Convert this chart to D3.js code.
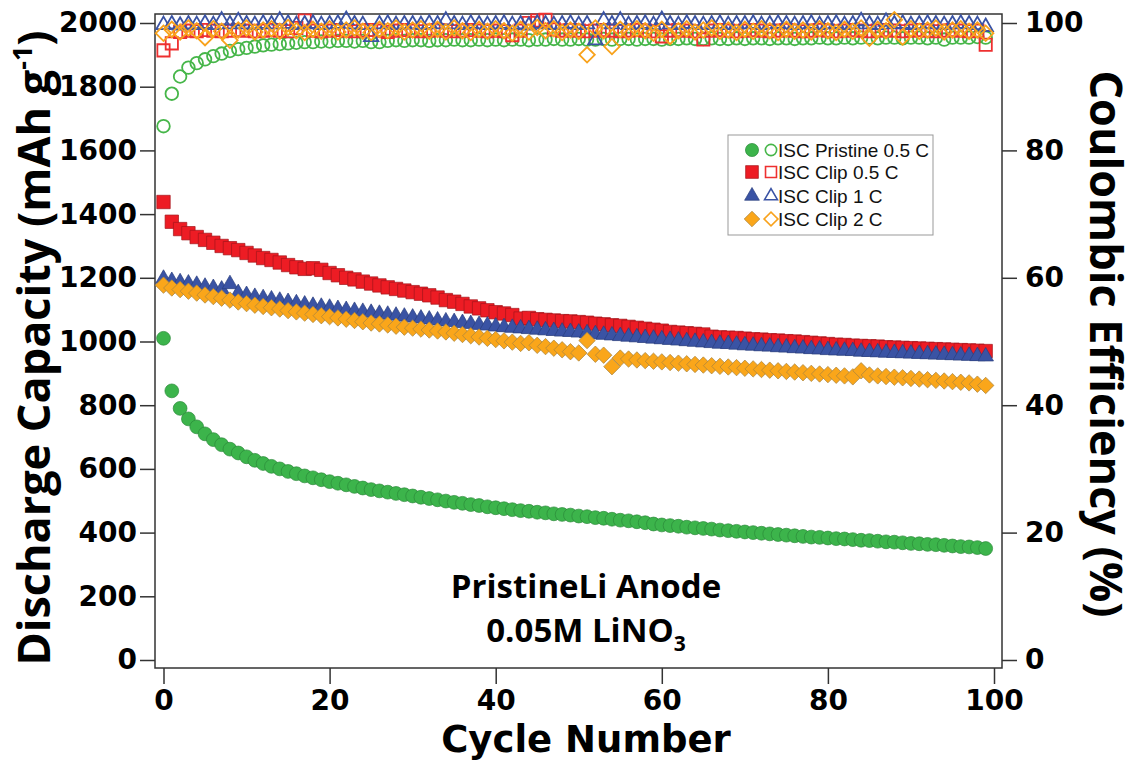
<!DOCTYPE html>
<html>
<head>
<meta charset="utf-8">
<script src="https://cdn.jsdelivr.net/npm/d3@7"></script>
<style>
  html, body { margin: 0; padding: 0; background: #fff; }
  svg { display: block; }
</style>
</head>
<body>
<svg id="chart" width="1137" height="766"></svg>
<script>
// ---- data ----------------------------------------------------------------
const cycleTicks = [0, 20, 40, 60, 80, 100];
const capacityTicks = [0, 200, 400, 600, 800, 1000, 1200, 1400, 1600, 1800, 2000];
const efficiencyTicks = [0, 20, 40, 60, 80, 100];

const seriesNames = ["ISC Pristine 0.5 C", "ISC Clip 0.5 C", "ISC Clip 1 C", "ISC Clip 2 C"];

// discharge capacity, mAh g-1, cycles 0..99
const pristineCap = [
  1010, 845, 790, 757, 732, 710, 692, 676, 662, 650,
  638, 627, 617, 608, 600, 592, 585, 578, 572, 566,
  560, 555, 550, 545, 540, 535, 531, 527, 523, 519,
  515, 511, 507, 503, 499, 495, 492, 488, 485, 481,
  478, 475, 472, 469, 467, 464, 462, 459, 457, 455,
  452, 450, 447, 445, 442, 439, 437, 434, 431, 427,
  424, 422, 420, 417, 415, 413, 411, 408, 406, 404,
  402, 400, 398, 396, 394, 392, 390, 388, 386, 385,
  383, 381, 380, 378, 376, 375, 373, 371, 370, 368,
  366, 365, 363, 362, 360, 358, 356, 355, 353, 350
];
const clip05Cap = [
  1438, 1376, 1353, 1340, 1328, 1319, 1310, 1300, 1293, 1287,
  1278, 1270, 1262, 1256, 1248, 1240, 1233, 1228, 1230, 1225,
  1215, 1208, 1200, 1195, 1188, 1182, 1176, 1170, 1165, 1160,
  1155, 1150, 1145, 1138, 1130, 1125, 1118, 1110, 1104, 1098,
  1092, 1088, 1083, 1072, 1074, 1070, 1068, 1066, 1064, 1063,
  1061, 1059, 1056, 1054, 1051, 1049, 1046, 1043, 1040, 1037,
  1034, 1030, 1028, 1026, 1024, 1022, 1015, 1013, 1012, 1011,
  1009, 1007, 1006, 1004, 1003, 1001, 1000, 998, 996, 994,
  992, 990, 989, 987, 986, 985, 984, 982, 981, 980,
  979, 978, 977, 976, 975, 974, 973, 972, 971, 970
];
const clip1Cap = [
  1197, 1190, 1186, 1182, 1178, 1172, 1168, 1163, 1180, 1152,
  1146, 1140, 1136, 1132, 1128, 1124, 1120, 1116, 1112, 1109,
  1106, 1102, 1099, 1096, 1093, 1090, 1087, 1084, 1081, 1078,
  1075, 1072, 1069, 1066, 1063, 1061, 1058, 1055, 1052, 1050,
  1047, 1045, 1043, 1041, 1039, 1037, 1035, 1033, 1031, 1030,
  1028, 1026, 1023, 1021, 1019, 1017, 1015, 1013, 1011, 1009,
  1007, 1005, 1003, 1001, 999, 997, 995, 993, 992, 990,
  988, 987, 985, 984, 982, 981, 979, 978, 976, 975,
  973, 972, 971, 970, 968, 967, 966, 965, 964, 963,
  962, 961, 960, 959, 958, 957, 956, 955, 954, 953
];
const clip2Cap = [
  1177, 1168, 1163, 1158, 1152, 1146, 1141, 1136, 1130, 1124,
  1119, 1114, 1110, 1106, 1102, 1097, 1093, 1089, 1085, 1081,
  1078, 1074, 1070, 1066, 1062, 1058, 1055, 1052, 1048, 1045,
  1042, 1039, 1036, 1033, 1030, 1026, 1022, 1018, 1014, 1010,
  1006, 1002, 998, 994, 996, 988, 984, 979, 974, 968,
  964, 1003, 960, 957, 921, 948, 945, 942, 940, 938,
  936, 934, 932, 930, 928, 926, 924, 922, 920, 918,
  916, 914, 912, 910, 908, 906, 904, 902, 900, 898,
  896, 894, 892, 889, 908, 895, 892, 890, 888, 886,
  884, 882, 880, 878, 876, 874, 872, 870, 866, 862
];

// coulombic efficiency, %, cycles 0..99
const pristineCE = [
  83.8, 88.9, 91.6, 93.0, 93.7, 94.3, 94.8, 95.2, 95.6, 95.9,
  96.1, 96.3, 96.5, 96.6, 96.7, 96.8, 96.9, 97.0, 97.0, 97.1,
  97.1, 97.2, 97.2, 97.1, 97.2, 97.0, 97.0, 97.2, 97.3, 97.2,
  97.3, 97.3, 97.2, 97.3, 97.3, 97.4, 97.3, 97.3, 97.4, 97.3,
  97.4, 97.3, 97.4, 97.4, 97.3, 97.4, 97.4, 97.5, 97.4, 97.4,
  97.5, 97.4, 97.4, 97.5, 97.4, 97.5, 97.5, 97.4, 97.5, 97.5,
  97.4, 97.5, 97.5, 97.6, 97.5, 97.5, 97.6, 97.5, 97.5, 97.6,
  97.5, 97.6, 97.6, 97.5, 97.6, 97.6, 97.5, 97.6, 97.6, 97.7,
  97.6, 97.6, 97.7, 97.6, 97.7, 97.7, 97.6, 97.7, 97.7, 97.6,
  97.7, 97.7, 97.6, 97.7, 97.4, 97.7, 97.7, 97.7, 97.8, 97.7
];
const clip05CE = [
  95.7, 96.8, 98.6, 98.8, 98.7, 98.9, 98.8, 98.7, 98.8, 98.9,
  98.8, 98.7, 98.8, 98.9, 98.8, 98.7, 99.2, 100.4, 98.8, 98.7,
  98.8, 98.9, 98.8, 98.7, 98.8, 98.9, 98.8, 98.6, 98.8, 98.9,
  98.8, 98.7, 98.8, 98.9, 98.8, 98.7, 98.8, 98.9, 98.8, 98.7,
  98.8, 98.7, 98.1, 98.8, 100.0, 100.4, 100.5, 99.0, 98.8, 98.9,
  98.8, 98.7, 98.8, 98.9, 98.8, 98.7, 98.8, 98.9, 98.8, 98.7,
  97.9, 98.8, 98.9, 98.8, 98.7, 97.4, 98.8, 98.9, 98.8, 98.7,
  98.8, 98.9, 98.8, 98.7, 98.8, 98.9, 98.8, 98.7, 98.8, 98.9,
  98.8, 98.7, 98.8, 98.9, 98.8, 98.7, 98.8, 98.9, 98.8, 98.7,
  98.8, 98.9, 98.8, 98.7, 98.8, 98.9, 98.8, 98.7, 98.8, 96.6
];
const clip1CE = [
  99.7, 99.8, 99.6, 99.8, 99.7, 99.9, 99.7, 100.4, 99.8, 100.3,
  99.8, 99.7, 99.9, 99.8, 100.4, 99.9, 99.7, 99.8, 99.9, 99.7,
  99.8, 99.9, 100.5, 99.8, 99.7, 97.8, 99.8, 99.9, 99.7, 99.8,
  99.8, 99.7, 99.9, 99.8, 100.4, 99.8, 99.7, 99.9, 99.8, 99.7,
  99.8, 99.9, 99.7, 99.8, 99.6, 99.9, 99.8, 99.7, 99.8, 99.9,
  99.7, 99.8, 97.3, 100.4, 99.8, 100.4, 99.7, 99.8, 99.9, 99.7,
  100.5, 99.8, 99.7, 99.9, 99.8, 99.7, 99.8, 99.9, 99.7, 99.8,
  99.8, 99.9, 99.7, 99.8, 99.9, 99.8, 99.7, 99.8, 99.9, 99.7,
  99.8, 99.9, 99.7, 99.8, 100.3, 99.8, 99.7, 100.2, 99.8, 99.9,
  99.7, 99.8, 99.9, 99.8, 99.7, 99.8, 99.9, 99.8, 99.7, 99.4
];
const clip2CE = [
  98.4, 99.0, 98.6, 99.2, 98.8, 97.7, 99.1, 98.7, 97.3, 98.9,
  99.2, 98.6, 98.9, 99.1, 98.7, 99.3, 98.8, 98.5, 99.0, 98.7,
  99.1, 98.6, 98.9, 99.2, 98.7, 98.5, 99.0, 98.8, 99.2, 98.6,
  98.9, 99.1, 98.7, 99.0, 98.6, 99.2, 98.8, 98.5, 99.0, 98.7,
  99.1, 98.8, 98.4, 99.0, 98.6, 99.3, 98.8, 99.1, 98.5, 98.9,
  98.7, 95.0, 99.2, 98.8, 96.3, 99.0, 98.6, 99.1, 98.8, 98.4,
  99.0, 97.9, 98.8, 99.1, 98.6, 98.9, 99.2, 98.7, 98.9, 98.5,
  99.0, 98.7, 99.1, 98.8, 98.5, 99.0, 98.7, 98.9, 98.6, 99.1,
  98.8, 98.5, 99.0, 98.7, 99.2, 97.6, 99.0, 98.8, 100.5, 97.8,
  99.1, 98.7, 98.9, 99.2, 98.6, 98.9, 99.1, 98.7, 98.9, 98.4
];

// ---- layout & scales -------------------------------------------------------
const frame = { left: 155, right: 1002, top: 14, bottom: 668 };
const x = d3.scaleLinear().domain([0, 100]).range([163.5, 994]);
const yCap = d3.scaleLinear().domain([0, 2000]).range([660, 23]);
const yCE = d3.scaleLinear().domain([0, 100]).range([660, 23]);

const svg = d3.select("#chart");
const tickFont = "'DejaVu Sans', sans-serif";
const titleFont = "'Open Sans', 'DejaVu Sans', sans-serif";
const axisColor = "#333";

// marker styles per series: filled fill / edge, open stroke, symbol sizes
const styles = [
  { sym: d3.symbolCircle,   fill: "#3cb44b", edge: "#2b8a3a", open: "#46b649", capSize: 150, ceSize: 125, rot: 0 },
  { sym: d3.symbolSquare,   fill: "#ed1c24", edge: "#a3161b", open: "#ee3030", capSize: 180, ceSize: 150, rot: 0 },
  { sym: d3.symbolTriangle, fill: "#3a53a4", edge: "#2a3d7c", open: "#3a53a4", capSize: 105, ceSize: 90,  rot: 0 },
  { sym: d3.symbolSquare,   fill: "#faa61a", edge: "#a9843f", open: "#f8a21c", capSize: 135, ceSize: 120, rot: 45 }
];
const capSeries = [pristineCap, clip05Cap, clip1Cap, clip2Cap];
const ceSeries = [pristineCE, clip05CE, clip1CE, clip2CE];

// ---- frame -----------------------------------------------------------------
svg.append("rect")
  .attr("x", frame.left).attr("y", frame.top)
  .attr("width", frame.right - frame.left)
  .attr("height", frame.bottom - frame.top)
  .attr("fill", "none").attr("stroke", axisColor).attr("stroke-width", 1.5);

// ---- coulombic efficiency (open markers) -----------------------------------
const ceLayer = svg.append("g");
ceSeries.forEach((vals, i) => {
  const s = styles[i];
  const path = d3.symbol().type(s.sym).size(s.ceSize)();
  ceLayer.append("g").selectAll("path")
    .data(vals)
    .join("path")
    .attr("d", path)
    .attr("transform", (d, j) => `translate(${x(j)},${yCE(d)}) rotate(${s.rot})`)
    .attr("fill", "none")
    .attr("stroke", s.open)
    .attr("stroke-width", 1.8);
});

// ---- discharge capacity (filled markers) -----------------------------------
const capLayer = svg.append("g");
capSeries.forEach((vals, i) => {
  const s = styles[i];
  const path = d3.symbol().type(s.sym).size(s.capSize)();
  capLayer.append("g").selectAll("path")
    .data(vals)
    .join("path")
    .attr("d", path)
    .attr("transform", (d, j) => `translate(${x(j)},${yCap(d)}) rotate(${s.rot})`)
    .attr("fill", s.fill)
    .attr("stroke", s.edge)
    .attr("stroke-width", 0.7);
});

// ---- axes ------------------------------------------------------------------
function styleAxis(g) {
  g.select(".domain").remove();
  g.selectAll(".tick line").attr("stroke", axisColor).attr("stroke-width", 1.5);
  g.selectAll(".tick text")
    .attr("fill", "#000")
    .attr("font-family", tickFont)
    .attr("font-weight", "bold")
    .attr("font-size", 28);
  g.attr("font-family", null).attr("font-size", null);
}

svg.append("g")
  .attr("transform", `translate(${frame.left},0)`)
  .call(d3.axisLeft(yCap).tickValues(capacityTicks).tickFormat(d3.format("d")).tickSize(15).tickPadding(3))
  .call(styleAxis);

svg.append("g")
  .attr("transform", `translate(${frame.right},0)`)
  .call(d3.axisRight(yCE).tickValues(efficiencyTicks).tickFormat(d3.format("d")).tickSize(15).tickPadding(8))
  .call(styleAxis);

svg.append("g")
  .attr("transform", `translate(0,${frame.bottom})`)
  .call(d3.axisBottom(x).tickValues(cycleTicks).tickFormat(d3.format("d")).tickSize(16).tickPadding(6))
  .call(styleAxis);

// ---- axis titles -----------------------------------------------------------
svg.append("text")
  .attr("x", 586).attr("y", 752)
  .attr("text-anchor", "middle")
  .attr("font-family", tickFont).attr("font-weight", "bold").attr("font-size", 37)
  .text("Cycle Number");

const leftTitle = svg.append("text")
  .attr("transform", "translate(50,348) rotate(-90)")
  .attr("text-anchor", "middle")
  .attr("font-family", titleFont).attr("font-weight", "bold").attr("font-size", 45);
leftTitle.append("tspan").text("Discharge Capacity (mAh g");
leftTitle.append("tspan").attr("font-size", 27).attr("dy", -18).text("-1");
leftTitle.append("tspan").attr("dy", 18).text(")");

svg.append("text")
  .attr("transform", "translate(1090,344) rotate(90)")
  .attr("text-anchor", "middle")
  .attr("font-family", titleFont).attr("font-weight", "bold").attr("font-size", 45)
  .text("Coulombic Efficiency (%)");

// ---- annotation ------------------------------------------------------------
svg.append("text")
  .attr("x", 586).attr("y", 598)
  .attr("text-anchor", "middle")
  .attr("font-family", titleFont).attr("font-weight", "bold").attr("font-size", 33)
  .text("PristineLi Anode");
const note2 = svg.append("text")
  .attr("x", 586).attr("y", 642)
  .attr("text-anchor", "middle")
  .attr("font-family", titleFont).attr("font-weight", "bold").attr("font-size", 33);
note2.append("tspan").text("0.05M LiNO");
note2.append("tspan").attr("font-size", 21).attr("dy", 9).text("3");

// ---- legend ----------------------------------------------------------------
const legend = svg.append("g").attr("transform", "translate(728,135)");
legend.append("rect")
  .attr("width", 205).attr("height", 100)
  .attr("fill", "#fff").attr("stroke", "#999").attr("stroke-width", 1);
const rowY = [15, 37, 61, 84];
seriesNames.forEach((name, i) => {
  const s = styles[i];
  const row = legend.append("g").attr("transform", `translate(0,${rowY[i]})`);
  row.append("path")
    .attr("d", d3.symbol().type(s.sym).size(s.capSize * 0.9)())
    .attr("transform", `translate(24,0) rotate(${s.rot})`)
    .attr("fill", s.fill).attr("stroke", s.edge).attr("stroke-width", 0.7);
  row.append("path")
    .attr("d", d3.symbol().type(s.sym).size(s.ceSize * 0.8)())
    .attr("transform", `translate(43,0) rotate(${s.rot})`)
    .attr("fill", "none").attr("stroke", s.open).attr("stroke-width", 1.6);
  row.append("text")
    .attr("x", 50).attr("y", 7)
    .attr("font-family", "'Liberation Sans', Arial, sans-serif")
    .attr("font-size", 19)
    .attr("fill", "#111")
    .text(name);
});
</script>
</body>
</html>
